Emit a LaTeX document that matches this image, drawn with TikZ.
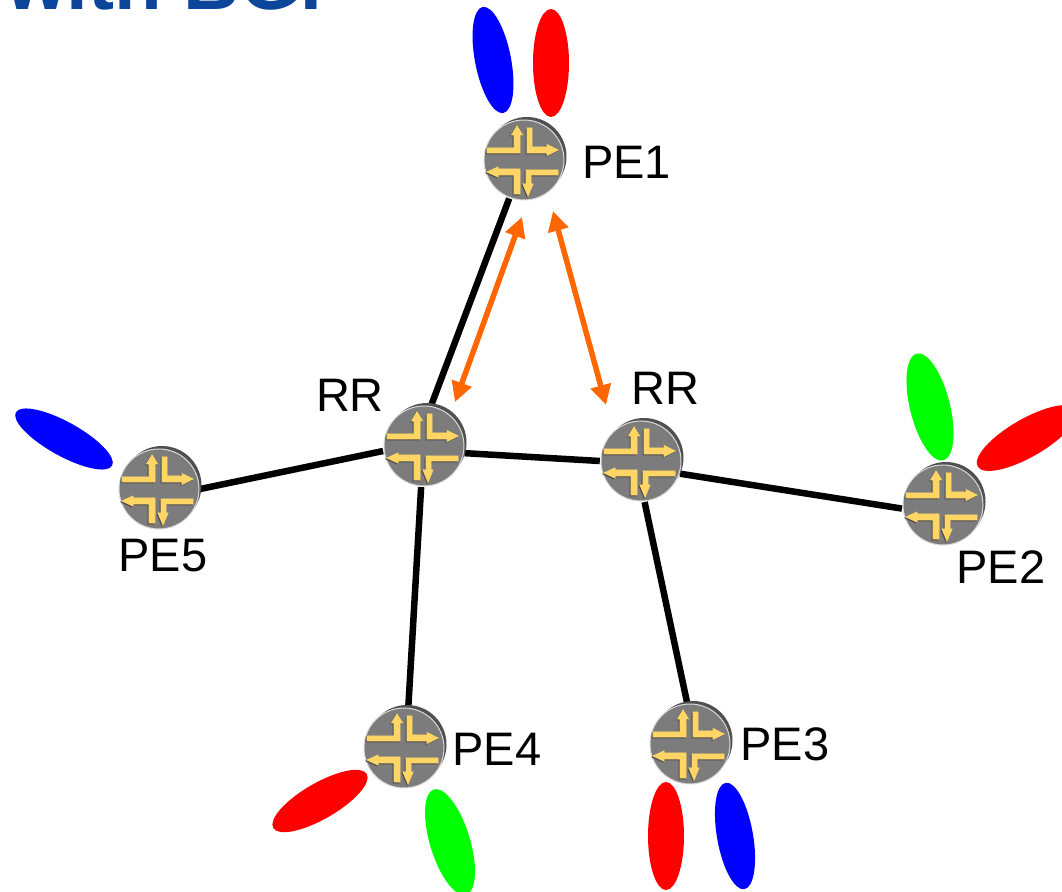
\documentclass[tikz,border=0pt]{standalone}
\usepackage{fontspec}
\setmainfont{Liberation Sans}
\usetikzlibrary{arrows.meta}
\definecolor{titleblue}{HTML}{0B469B}
\definecolor{linkorange}{HTML}{FF6600}
\definecolor{facegray}{HTML}{7C7C7C}
\definecolor{rimgray}{HTML}{505050}
\definecolor{arrowyellow}{HTML}{FFD666}
\tikzset{
  router/.style={circle,minimum size=82pt,inner sep=0pt},
  lbl/.style={inner sep=0pt,font=\fontsize{47}{50}\selectfont},
  link/.style={line width=6.5pt,black},
  session/.style={line width=5.5pt,linkorange,{Triangle[length=20pt,width=20pt]}-{Triangle[length=20pt,width=20pt]}},
  turnarrows/.pic={
    \filldraw[#1,line width=0.8pt] (3,32) -- (8,32) -- (8,13) -- (23,13) -- (23,15.5) -- (34,10) -- (23,4.5) -- (23,7) -- (3,7) -- cycle;
    \filldraw[#1,line width=0.8pt] (-37,12) -- (-10,12) -- (-10,25) -- (-12.5,25) -- (-7,34) -- (-1.5,25) -- (-4,25) -- (-4,7) -- (-37,7) -- cycle;
    \filldraw[#1,line width=0.8pt] (-37,-12) -- (-26,-7) -- (-26,-9) -- (-4,-9) -- (-4,-34) -- (-10,-34) -- (-10,-15) -- (-26,-15) -- (-26,-17) -- cycle;
    \filldraw[#1,line width=0.8pt] (34,-10) -- (2,-10) -- (2,-24) -- (-1,-24) -- (4,-36) -- (9,-24) -- (7,-24) -- (7,-15) -- (34,-15) -- cycle;
  },
  routerface/.pic={
    \fill[rimgray] (3,3.5) circle (39.5);
    \fill[facegray,draw=white!85!black,line width=1pt] (0,0) circle (40);
    \pic[xshift=-1pt,yshift=-1pt] {turnarrows=black!70};
    \pic {turnarrows=arrowyellow};
  }
}
\begin{document}
\begin{tikzpicture}[x=1pt,y=1pt]
\clip (0,0) rectangle (1062,891);
\node[anchor=base west,inner sep=0pt,text=titleblue,font=\fontsize{78}{84}\selectfont\bfseries] (title) at (6,881) {with BGP};
\node[router] (pe1) at (524,731) {};
\node[router] (rra) at (424,445) {};
\node[router] (rrb) at (641,430) {};
\node[router] (pe2) at (943,386) {};
\node[router] (pe3) at (690,147) {};
\node[router] (pe4) at (404,143) {};
\node[router] (pe5) at (159,402) {};
\draw[link] (pe1.249) -- (rra.80);
\draw[link] (rra.-10) -- (rrb.180);
\draw[link] (rrb.-18) -- (pe2.185);
\draw[link] (rrb.-85) -- (pe3.94);
\draw[link] (rra.266) -- (pe4.84);
\draw[link] (rra.187) -- (pe5.0);
\pic at (pe1) {routerface};
\pic at (rra) {routerface};
\pic at (rrb) {routerface};
\pic at (pe2) {routerface};
\pic at (pe3) {routerface};
\pic at (pe4) {routerface};
\pic at (pe5) {routerface};
\coordinate (sa1) at (522,674);
\coordinate (sa2) at (455,489);
\coordinate (sb1) at (553,680);
\coordinate (sb2) at (606,486);
\draw[session] (sa1) -- (sa2);
\draw[session] (sb1) -- (sb2);
\node[lbl,anchor=west] (lpe1) at (582,729) {PE1};
\node[lbl] (lrra) at (350,496) {RR};
\node[lbl] (lrrb) at (665,503) {RR};
\node[lbl] (lpe2) at (1001,324) {PE2};
\node[lbl] (lpe3) at (785,147) {PE3};
\node[lbl] (lpe4) at (497,142) {PE4};
\node[lbl] (lpe5) at (163,335) {PE5};
\fill[blue,rotate around={11:(493,831)}] (493,831) ellipse (18 and 54);
\fill[red] (551,828) ellipse (18 and 54);
\fill[green,rotate around={14:(930,484)}] (930,484) ellipse (20 and 55);
\fill[red,rotate around={30:(1027,453)}] (1027,453) ellipse (57 and 19);
\fill[red] (666,55) ellipse (18 and 54);
\fill[blue,rotate around={10:(735,55)}] (735,55) ellipse (18 and 54);
\fill[red,rotate around={30:(320,90)}] (320,90) ellipse (54 and 18);
\fill[green,rotate around={17:(450,49)}] (450,49) ellipse (20 and 55);
\fill[blue,rotate around={-29:(64,452)}] (64,452) ellipse (55 and 17);
\end{tikzpicture}
\end{document}
